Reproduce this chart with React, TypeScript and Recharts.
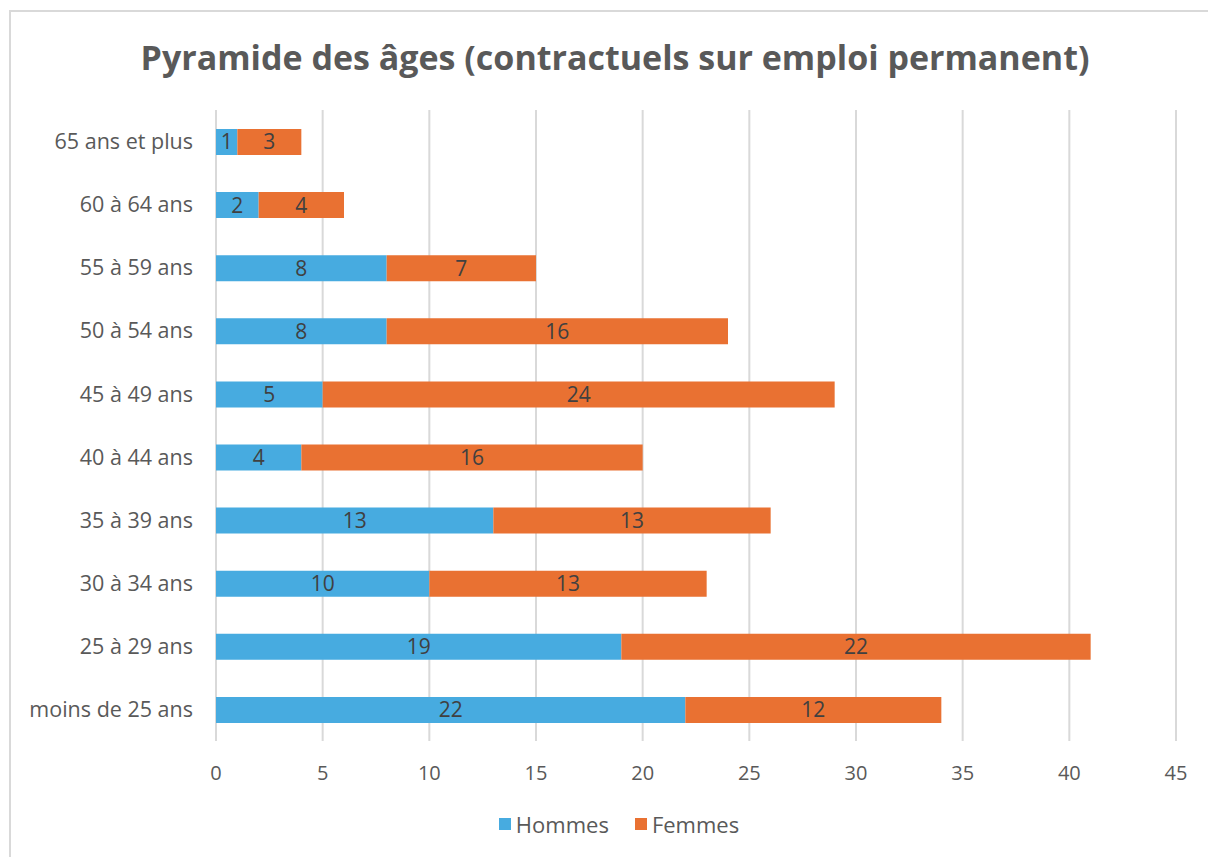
import React from 'react';
import { BarChart, Bar, XAxis, YAxis, CartesianGrid, LabelList } from 'recharts';

const AGE_GROUPS = ['65 ans et plus', '60 à 64 ans', '55 à 59 ans', '50 à 54 ans', '45 à 49 ans', '40 à 44 ans', '35 à 39 ans', '30 à 34 ans', '25 à 29 ans', 'moins de 25 ans'];
const HOMMES = [1, 2, 8, 8, 5, 4, 13, 10, 19, 22];
const FEMMES = [3, 4, 7, 16, 24, 16, 13, 13, 22, 12];
const X_TICKS = [0, 5, 10, 15, 20, 25, 30, 35, 40, 45];
const SERIES = [
  { key: 'Hommes', color: '#47abe0' },
  { key: 'Femmes', color: '#e97132' },
];

const TEXT = '#595959';
const FONT = '"Open Sans", "Noto Sans", sans-serif';

const data = AGE_GROUPS.map((age, i) => ({ age, Hommes: HOMMES[i], Femmes: FEMMES[i] }));

const labelStyle = { fill: '#404040', fontSize: 21, fontFamily: FONT };

export default function App() {
  return (
    <div style={{ position: 'absolute', left: 0, top: 0, width: 1208, height: 857, background: '#fff', overflow: 'hidden', fontFamily: FONT }}>
      <div style={{ position: 'absolute', left: 9, top: 10, width: 1220, height: 880, border: '2px solid #d9d9d9', boxSizing: 'border-box' }} />
      <div style={{ position: 'absolute', left: 0, width: 1230, top: 34, textAlign: 'center', fontSize: 34, fontWeight: 700, color: TEXT, whiteSpace: 'nowrap' }}>
        Pyramide des âges (contractuels sur emploi permanent)
      </div>
      <div style={{ position: 'absolute', left: 0, top: 0 }}>
        <BarChart width={1230} height={811} data={data} layout="vertical"
          margin={{ top: 110, right: 54, left: 0, bottom: 0 }} barSize={26}>
          <CartesianGrid horizontal={false} stroke="#d9d9d9" strokeWidth={2} />
          <XAxis type="number" domain={[0, 45]} ticks={X_TICKS} axisLine={false} tickLine={false}
            tickSize={0} tickMargin={25} height={70}
            tick={{ fill: TEXT, fontSize: 20, fontFamily: FONT }} />
          <YAxis type="category" dataKey="age" width={216} axisLine={false} tickLine={false}
            tickSize={0} tickMargin={23}
            tick={{ fill: TEXT, fontSize: 21.5, fontFamily: FONT }} />
          {SERIES.map(s => (
            <Bar key={s.key} dataKey={s.key} stackId="a" fill={s.color} isAnimationActive={false}>
              <LabelList dataKey={s.key} position="center" style={labelStyle} />
            </Bar>
          ))}
        </BarChart>
      </div>
      <div style={{ position: 'absolute', left: 0, width: 1238, top: 809, display: 'flex', justifyContent: 'center', gap: 26, fontSize: 22, color: TEXT }}>
        {SERIES.map(s => (
          <div key={s.key} style={{ display: 'flex', alignItems: 'center', gap: 5 }}>
            <span style={{ display: 'inline-block', width: 12, height: 12, background: s.color }} />
            <span>{s.key}</span>
          </div>
        ))}
      </div>
    </div>
  );
}
